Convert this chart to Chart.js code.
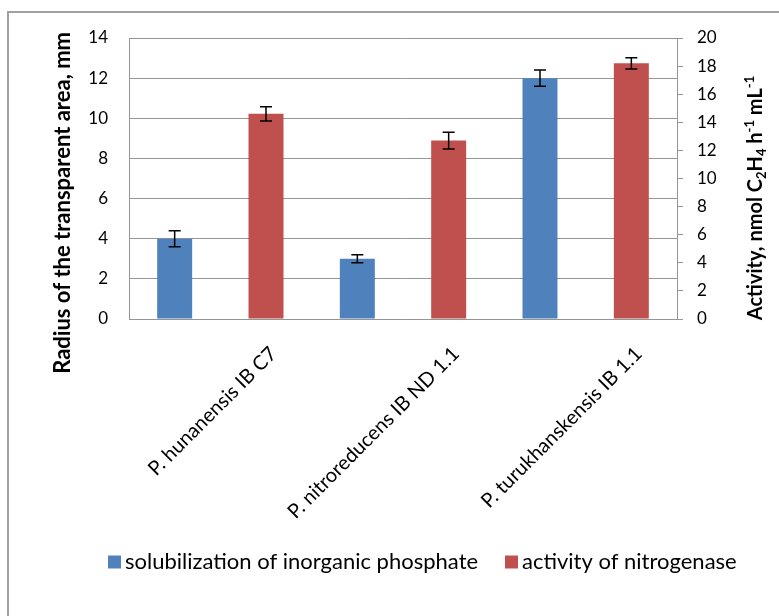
<!DOCTYPE html>
<html><head><meta charset="utf-8">
<script src="https://cdn.jsdelivr.net/npm/chart.js@4.4.1/dist/chart.umd.min.js"></script>
<style>html,body{margin:0;padding:0;background:#fff;overflow:hidden}#wrap{position:relative;width:779px;height:616px}</style>
</head><body><div id="wrap"><canvas id="c" width="779" height="616"></canvas></div>
<script>
const categories = ['P. hunanensis IB C7', 'P. nitroreducens IB ND 1.1', 'P. turukhanskensis IB 1.1'];
const seriesNames = ['solubilization of inorganic phosphate', 'activity of nitrogenase'];
const phosphateValues = [4.0, 3.0, 12.0];
const phosphateErrors = [0.4, 0.2, 0.4];
const nitrogenaseValues = [14.6, 12.7, 18.2];
const nitrogenaseErrors = [0.5, 0.6, 0.4];
const leftTickValues = [0, 2, 4, 6, 8, 10, 12, 14];
const rightTickValues = [0, 2, 4, 6, 8, 10, 12, 14, 16, 18, 20];
const leftAxisTitle = 'Radius of the transparent area, mm';
const rightAxisTitleParts = [['Activity, nmol C', ''], ['2', 'sub'], ['H', ''], ['4', 'sub'], [' h', ''], ['-1', 'sup'], [' mL', ''], ['-1', 'sup']];

const FONT = 'Lato';
const GRID = '#959595';
const BLUE = '#4F81BD';
const RED = '#C0504D';

const errorBars = {
  id: 'errorBars',
  afterDatasetsDraw(chart) {
    const ctx = chart.ctx;
    chart.data.datasets.forEach((ds, i) => {
      const meta = chart.getDatasetMeta(i);
      const sc = chart.scales[ds.yAxisID];
      meta.data.forEach((bar, j) => {
        const v = ds.data[j], e = ds.errors[j];
        const yt = sc.getPixelForValue(v + e), yb = sc.getPixelForValue(v - e);
        ctx.save();
        ctx.strokeStyle = '#000';
        ctx.lineWidth = 1.5;
        ctx.beginPath();
        ctx.moveTo(bar.x, yt); ctx.lineTo(bar.x, yb);
        ctx.moveTo(bar.x - 6, yt); ctx.lineTo(bar.x + 6, yt);
        ctx.moveTo(bar.x - 6, yb); ctx.lineTo(bar.x + 6, yb);
        ctx.stroke();
        ctx.restore();
      });
    });
  }
};

const decorations = {
  id: 'decorations',
  beforeDraw(chart) {
    const ctx = chart.ctx;
    ctx.save();
    ctx.fillStyle = '#fff';
    ctx.fillRect(0, 0, chart.width, chart.height);
    ctx.strokeStyle = '#a0a0a0';
    ctx.lineWidth = 2;
    ctx.strokeRect(8, 12, 1000, 1000);
    ctx.restore();
  },
  afterDraw(chart) {
    const ctx = chart.ctx;
    ctx.save();
    ctx.fillStyle = '#000';
    ctx.font = 'bold 22px ' + FONT;
    ctx.translate(63, 32);
    ctx.rotate(-Math.PI / 2);
    ctx.textAlign = 'right';
    ctx.textBaseline = 'middle';
    ctx.fillText(leftAxisTitle, 0, 0);
    ctx.restore();

    ctx.save();
    ctx.fillStyle = '#000';
    const big = 'bold 20px ' + FONT, small = 'bold 13px ' + FONT;
    let total = 0;
    rightAxisTitleParts.forEach(([t, k]) => { ctx.font = k ? small : big; total += ctx.measureText(t).width; });
    ctx.translate(756, 198 + total / 2);
    ctx.rotate(-Math.PI / 2);
    ctx.textAlign = 'left';
    ctx.textBaseline = 'middle';
    let x = 0;
    rightAxisTitleParts.forEach(([t, k]) => {
      ctx.font = k ? small : big;
      const dy = k === 'sub' ? 6 : (k === 'sup' ? -6 : 0);
      ctx.fillText(t, x, dy);
      x += ctx.measureText(t).width;
    });
    ctx.restore();

    ctx.save();
    ctx.font = '22px ' + FONT;
    ctx.textBaseline = 'middle';
    const colors = [BLUE, RED];
    const squareX = [108, 505];
    const sq = 13, ly = 562;
    seriesNames.forEach((s, i) => {
      ctx.fillStyle = colors[i];
      ctx.fillRect(squareX[i], ly - sq / 2, sq, sq);
      ctx.fillStyle = '#000';
      ctx.fillText(s, squareX[i] + sq + 4, ly);
    });
    ctx.restore();
  }
};

new Chart(document.getElementById('c'), {
  type: 'bar',
  data: {
    labels: categories,
    datasets: [
      { label: seriesNames[0], data: phosphateValues, errors: phosphateErrors, yAxisID: 'y', backgroundColor: BLUE, categoryPercentage: 1.0, barPercentage: 0.383 },
      { label: seriesNames[1], data: nitrogenaseValues, errors: nitrogenaseErrors, yAxisID: 'y1', backgroundColor: RED, categoryPercentage: 1.0, barPercentage: 0.383 }
    ]
  },
  options: {
    responsive: false,
    animation: false,
    layout: { padding: { top: 38, left: 0, right: 0, bottom: 0 } },
    plugins: { legend: { display: false }, tooltip: { enabled: false } },
    scales: {
      x: {
        afterFit: s => { s.height = 297; },
        grid: { display: false, drawTicks: false },
        border: { display: true, color: GRID, width: 1 },
        ticks: { color: '#000', font: { family: FONT, size: 20 }, minRotation: 45, maxRotation: 45, autoSkip: false, labelOffset: 53, padding: 23 }
      },
      y: {
        position: 'left',
        min: 0, max: 14,
        afterFit: s => { s.width = 129; },
        afterBuildTicks: s => { s.ticks = leftTickValues.map(v => ({ value: v })); },
        grid: { color: GRID, lineWidth: 1, drawTicks: false },
        border: { display: true, color: GRID, width: 1 },
        ticks: { color: '#000', font: { family: FONT, size: 17 }, padding: 21 }
      },
      y1: {
        position: 'right',
        min: 0, max: 20,
        afterFit: s => { s.width = 102; },
        afterBuildTicks: s => { s.ticks = rightTickValues.map(v => ({ value: v })); },
        grid: { drawOnChartArea: false, color: GRID, drawTicks: true, tickLength: 6 },
        border: { display: true, color: GRID, width: 1 },
        ticks: { color: '#000', font: { family: FONT, size: 17 }, padding: 14 }
      }
    }
  },
  plugins: [decorations, errorBars]
});
</script></body></html>
